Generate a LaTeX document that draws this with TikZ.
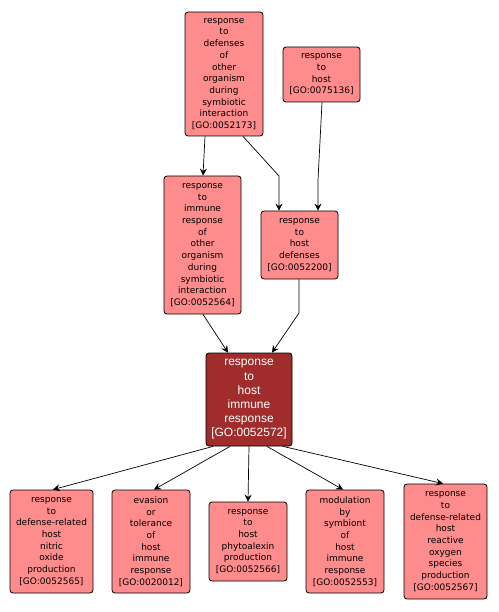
\documentclass[tikz,border=0pt]{standalone}
\usepackage{fontspec}
\newfontfamily\lblfont{DejaVu Sans}
\newfontfamily\bigfont{Liberation Sans}
\usetikzlibrary{arrows.meta}
\definecolor{nodepink}{RGB}{255,140,140}
\definecolor{nodedark}{RGB}{160,44,44}
\tikzset{
  box/.style={draw=black, line width=0.8pt, rounded corners=3pt, fill=nodepink,
    align=center, inner sep=0pt, font=\lblfont\fontsize{9}{11.7}\selectfont},
  mainbox/.style={box, fill=nodedark, text=white, font=\bigfont\fontsize{12}{14.2}\selectfont},
  edge/.style={draw=black, line width=0.7pt, -{Stealth[length=7pt,width=7pt,inset=2.5pt]}}
}
\begin{document}
\begin{tikzpicture}[x=1pt,y=-1pt]
\useasboundingbox (0,0) rectangle (498,612);
\fill[white] (0,0) rectangle (498,612);
\node[box, minimum width=78pt, minimum height=124pt] (a) at (224,74)
  {response\\to\\defenses\\of\\other\\organism\\during\\symbiotic\\interaction\\{[GO:0052173]}};
\node[box, minimum width=77pt, minimum height=55pt] (b) at (321.5,74.5)
  {response\\to\\host\\{[GO:0075136]}};
\node[box, minimum width=77pt, minimum height=138pt] (c) at (202.5,245)
  {response\\to\\immune\\response\\of\\other\\organism\\during\\symbiotic\\interaction\\{[GO:0052564]}};
\node[box, minimum width=77pt, minimum height=68pt] (d) at (299.5,245)
  {response\\to\\host\\defenses\\{[GO:0052200]}};
\node[mainbox, minimum width=86pt, minimum height=93pt] (e) at (249,399.5)
  {response\\to\\host\\immune\\response\\{[GO:0052572]}};
\node[box, minimum width=83pt, minimum height=103pt] (f1) at (51.5,541.5)
  {response\\to\\defense-related\\host\\nitric\\oxide\\production\\{[GO:0052565]}};
\node[box, minimum width=78pt, minimum height=103pt] (f2) at (151,541.5)
  {evasion\\or\\tolerance\\of\\host\\immune\\response\\{[GO:0020012]}};
\node[box, minimum width=78pt, minimum height=79pt] (f3) at (248,541.5)
  {response\\to\\host\\phytoalexin\\production\\{[GO:0052566]}};
\node[box, minimum width=78pt, minimum height=103pt] (f4) at (345,541.5)
  {modulation\\by\\symbiont\\of\\host\\immune\\response\\{[GO:0052553]}};
\node[box, minimum width=83pt, minimum height=115pt] (f5) at (445.5,541.5)
  {response\\to\\defense-related\\host\\reactive\\oxygen\\species\\production\\{[GO:0052567]}};
% edges
\coordinate (ad) at (279,176);
\coordinate (bd) at (318,180);
\coordinate (de) at (299,313);
\draw[edge] ([xshift=-19pt]a.south) -- ([xshift=0.5pt]c.north);
\draw[edge] ([xshift=19pt]a.south) -- (ad) -- (ad |- d.north);
\draw[edge] ([xshift=0.5pt]b.south) -- (bd) -- (bd |- d.north);
\draw[edge] ([xshift=0.5pt]c.south) -- ([xshift=-21pt]e.north);
\draw[edge] (de |- d.south) -- (de) -- ([xshift=23pt]e.north);
\draw[edge] ([xshift=-36pt]e.south) -- ([xshift=1.5pt]f1.north);
\draw[edge] ([xshift=-19pt]e.south) -- ([xshift=3pt]f2.north);
\draw[edge] (e.south) -- (f3.north);
\draw[edge] ([xshift=18pt]e.south) -- ([xshift=-2pt]f4.north);
\draw[edge] ([xshift=34pt]e.south) -- ([xshift=-2.5pt]f5.north);
\end{tikzpicture}
\end{document}
